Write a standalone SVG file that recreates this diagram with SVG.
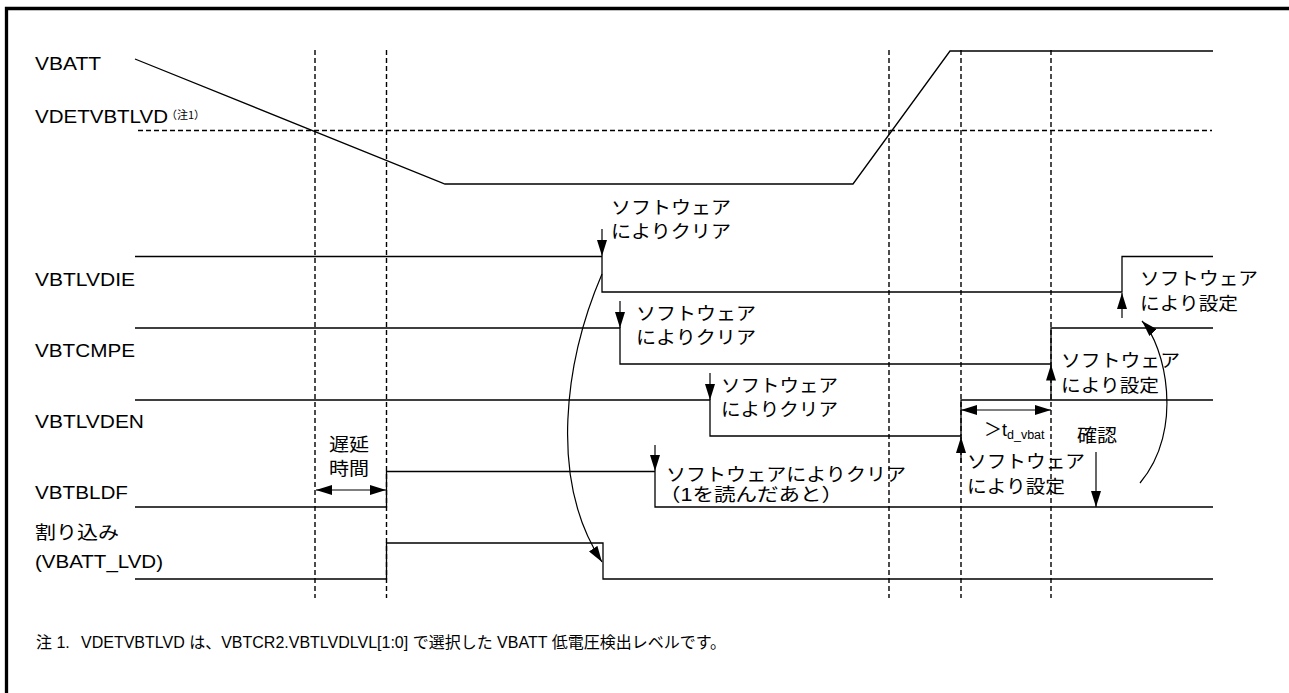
<svg xmlns="http://www.w3.org/2000/svg" width="1289" height="693" viewBox="0 0 1289 693">
<defs>
<style>
.t{font-family:"Liberation Sans","Noto Sans CJK JP",sans-serif;font-size:18px;fill:#000}
.n{font-family:"Liberation Sans","Noto Sans CJK JP",sans-serif;font-size:16px;fill:#000}
.sig{fill:none;stroke:#000;stroke-width:1.3}
.dash{fill:none;stroke:#000;stroke-width:1.4;stroke-dasharray:5 3}
.arr{fill:none;stroke:#000;stroke-width:1.2;marker-end:url(#ah)}
.dbl{fill:none;stroke:#000;stroke-width:1.2;marker-end:url(#ah);marker-start:url(#ahs)}
</style>
<marker id="ah" markerWidth="16" markerHeight="10" refX="16" refY="5" orient="auto" markerUnits="userSpaceOnUse"><path d="M0,0 L16,5 L0,10 z" fill="#000"/></marker>
<marker id="ahs" markerWidth="16" markerHeight="10" refX="16" refY="5" orient="auto-start-reverse" markerUnits="userSpaceOnUse"><path d="M0,0 L16,5 L0,10 z" fill="#000"/></marker>
</defs>
<rect width="1289" height="693" fill="#fff"/>
<path d="M6.5,693 V8.5 H1289" fill="none" stroke="#000" stroke-width="3.3"/>

<g id="guides">
<line class="dash" x1="315" y1="50" x2="315" y2="598"/>
<line class="dash" x1="386.5" y1="50" x2="386.5" y2="598"/>
<line class="dash" x1="889" y1="50" x2="889" y2="598"/>
<line class="dash" x1="961" y1="50" x2="961" y2="598"/>
<line class="dash" x1="1051" y1="50" x2="1051" y2="598"/>
<line class="dash" x1="138" y1="130.5" x2="1212" y2="130.5"/>
</g>

<g id="vbatt">
<text class="t" x="35" y="70" textLength="66" lengthAdjust="spacingAndGlyphs">VBATT</text>
<path class="sig" d="M135,59 L445,184 H853 L950,51 H1213"/>
</g>

<g id="vdetvbtlvd">
<text class="t" x="35" y="123" textLength="133" lengthAdjust="spacingAndGlyphs">VDETVBTLVD</text>
<text x="166" y="119" style="font-family:'Noto Sans CJK JP',sans-serif;font-size:11px">（注1）</text>
</g>

<g id="vbtlvdie">
<text class="t" x="35" y="286" textLength="100" lengthAdjust="spacingAndGlyphs">VBTLVDIE</text>
<path class="sig" d="M135,256.5 H602 V292 H1122 V256.5 H1213"/>
<text class="t" x="611" y="214" textLength="120" lengthAdjust="spacingAndGlyphs">ソフトウェア</text>
<text class="t" x="611" y="238" textLength="120" lengthAdjust="spacingAndGlyphs">によりクリア</text>
<text class="t" x="1140" y="285" textLength="118" lengthAdjust="spacingAndGlyphs">ソフトウェア</text>
<text class="t" x="1140" y="310" textLength="98" lengthAdjust="spacingAndGlyphs">により設定</text>
</g>

<g id="vbtcmpe">
<text class="t" x="35" y="357" textLength="100" lengthAdjust="spacingAndGlyphs">VBTCMPE</text>
<path class="sig" d="M135,328 H620 V364 H1051 V328 H1213"/>
<text class="t" x="636" y="320" textLength="120" lengthAdjust="spacingAndGlyphs">ソフトウェア</text>
<text class="t" x="636" y="344" textLength="120" lengthAdjust="spacingAndGlyphs">によりクリア</text>
<text class="t" x="1061" y="367" textLength="119" lengthAdjust="spacingAndGlyphs">ソフトウェア</text>
<text class="t" x="1061" y="392" textLength="98" lengthAdjust="spacingAndGlyphs">により設定</text>
</g>

<g id="vbtlvden">
<text class="t" x="35" y="428" textLength="109" lengthAdjust="spacingAndGlyphs">VBTLVDEN</text>
<path class="sig" d="M135,400 H710 V436 H961 V400 H1213"/>
<text class="t" x="721" y="392" textLength="117" lengthAdjust="spacingAndGlyphs">ソフトウェア</text>
<text class="t" x="721" y="416" textLength="117" lengthAdjust="spacingAndGlyphs">によりクリア</text>
<text class="t" x="967" y="468" textLength="118" lengthAdjust="spacingAndGlyphs">ソフトウェア</text>
<text class="t" x="967" y="493" textLength="98" lengthAdjust="spacingAndGlyphs">により設定</text>
</g>

<g id="vbtbldf">
<text class="t" x="35" y="499" textLength="93" lengthAdjust="spacingAndGlyphs">VBTBLDF</text>
<path class="sig" d="M135,507 H386.5 V471.5 H655 V507 H1213"/>
<text class="t" x="329" y="451" textLength="40" lengthAdjust="spacingAndGlyphs">遅延</text>
<text class="t" x="329" y="475" textLength="40" lengthAdjust="spacingAndGlyphs">時間</text>
<text class="t" x="666" y="481" textLength="240" lengthAdjust="spacingAndGlyphs">ソフトウェアによりクリア</text>
<text class="t" x="659" y="501" textLength="184" lengthAdjust="spacingAndGlyphs">（1を読んだあと）</text>
<text class="t" x="1077" y="442" textLength="40" lengthAdjust="spacingAndGlyphs">確認</text>
</g>

<g id="interrupt">
<text class="t" x="35" y="539" textLength="84" lengthAdjust="spacingAndGlyphs">割り込み</text>
<text class="t" x="35" y="568" textLength="128" lengthAdjust="spacingAndGlyphs">(VBATT_LVD)</text>
<path class="sig" d="M135,579 H386.5 V543 H603 V579 H1213"/>
</g>

<g id="tdvbat">
<text class="t" x="984" y="436"><tspan style="font-family:'Noto Sans CJK JP',sans-serif">＞</tspan>t<tspan font-size="12.5" dy="3">d_vbat</tspan></text>
</g>

<g id="connectors">
<line class="arr" x1="602" y1="229" x2="602" y2="256"/>
<line class="arr" x1="620" y1="301" x2="620" y2="328"/>
<line class="arr" x1="710" y1="373" x2="710" y2="400"/>
<line class="arr" x1="655" y1="445" x2="655" y2="471"/>
<line class="arr" x1="1122" y1="318" x2="1122" y2="293"/>
<line class="arr" x1="1051" y1="400" x2="1051" y2="364.5"/>
<line class="arr" x1="961" y1="463" x2="961" y2="437"/>
<line class="arr" x1="1096" y1="452" x2="1096" y2="507"/>
<line class="dbl" x1="316" y1="490" x2="386" y2="490"/>
<line class="dbl" x1="961" y1="410" x2="1051" y2="410"/>
<path class="arr" d="M602,274 C565,360 548,480 602,562"/>
<path class="arr" d="M1140,483 C1185,430 1165,345 1142,321"/>
</g>

<g id="note">
<text class="n" x="36" y="648">注 1.</text>
<text class="n" x="81" y="648">VDETVBTLVD は、VBTCR2.VBTLVDLVL[1:0] で選択した VBATT 低電圧検出レベルです。</text>
</g>
</svg>
